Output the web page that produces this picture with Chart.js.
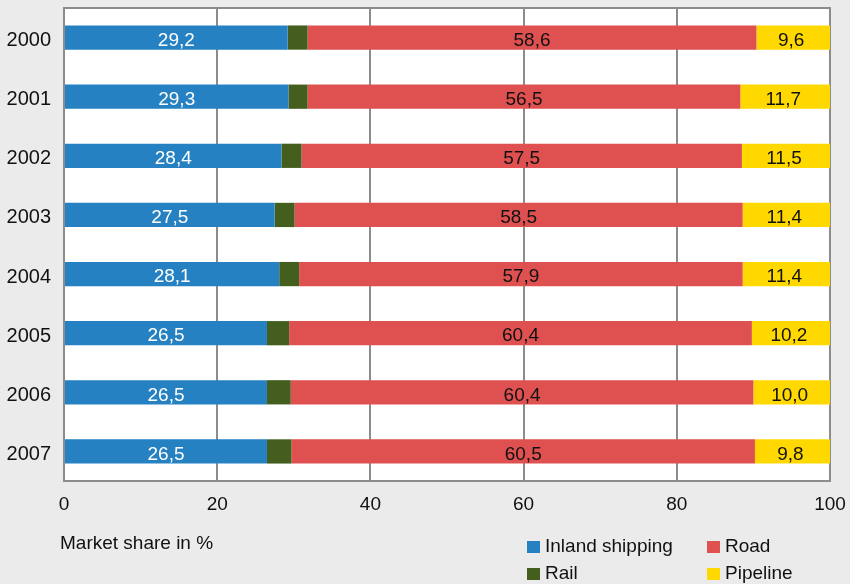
<!DOCTYPE html>
<html>
<head>
<meta charset="utf-8">
<script src="https://cdn.jsdelivr.net/npm/chart.js@4.4.0/dist/chart.umd.min.js"></script>
<style>
  html, body { margin: 0; padding: 0; background: #ebebeb; }
  #wrap { width: 850px; height: 584px; }
</style>
</head>
<body>
<div id="wrap"><canvas id="myChart" width="850" height="584"></canvas></div>
<script>
// market shares per year, in %
const years = ['2000', '2001', '2002', '2003', '2004', '2005', '2006', '2007'];
const inland = [29.2, 29.3, 28.4, 27.5, 28.1, 26.5, 26.5, 26.5];
const rail = [2.6, 2.5, 2.6, 2.6, 2.6, 2.9, 3.1, 3.2];
const road = [58.6, 56.5, 57.5, 58.5, 57.9, 60.4, 60.4, 60.5];
const pipeline = [9.6, 11.7, 11.5, 11.4, 11.4, 10.2, 10.0, 9.8];
const xTicks = [0, 20, 40, 60, 80, 100];

const FONT = "'Liberation Sans', Arial, sans-serif";
const GRID = '#8c8c8c';

// white plot area with grey frame
const plotArea = {
  id: 'plotArea',
  beforeDraw(chart) {
    const { ctx, chartArea: a } = chart;
    ctx.save();
    ctx.fillStyle = '#fff';
    ctx.fillRect(a.left, a.top, a.width, a.height);
    ctx.restore();
  },
  beforeDatasetsDraw(chart) {
    const { ctx, chartArea: a } = chart;
    ctx.save();
    ctx.strokeStyle = GRID;
    ctx.lineWidth = 2;
    ctx.strokeRect(a.left, a.top, a.width, a.height);
    ctx.restore();
  }
};

// value labels in the middle of each segment
const barLabels = {
  id: 'barLabels',
  afterDatasetsDraw(chart) {
    const ctx = chart.ctx;
    ctx.save();
    ctx.font = '19px ' + FONT;
    ctx.textAlign = 'center';
    ctx.textBaseline = 'middle';
    chart.data.datasets.forEach((ds, i) => {
      if (!ds.showValue) return;
      ctx.fillStyle = ds.valueColor;
      chart.getDatasetMeta(i).data.forEach((bar, j) => {
        const txt = ds.data[j].toFixed(1).replace('.', ',');
        ctx.fillText(txt, (bar.x + bar.base) / 2 - (i === 3 ? 2 : 0), bar.y + 3);
      });
    });
    ctx.restore();
  }
};

// axis caption and 2x2 legend under the chart
const footer = {
  id: 'footer',
  afterDraw(chart) {
    const ctx = chart.ctx;
    const ds = chart.data.datasets;
    ctx.save();
    ctx.font = '19px ' + FONT;
    ctx.textBaseline = 'middle';
    ctx.fillStyle = '#111';
    ctx.fillText('Market share in %', 60, 544);

    const slots = [[527, 546], [707, 546], [527, 573], [707, 573]];
    const order = [0, 2, 1, 3]; // inland, road / rail, pipeline
    order.forEach((di, k) => {
      const [x, y] = slots[k];
      ctx.fillStyle = ds[di].backgroundColor;
      ctx.fillRect(x, y - 5, 13, 12);
      ctx.fillStyle = '#111';
      ctx.fillText(ds[di].label, x + 18, y + 1);
    });
    ctx.restore();
  }
};

new Chart(document.getElementById('myChart'), {
  type: 'bar',
  data: {
    labels: years,
    datasets: [
      { label: 'Inland shipping', data: inland, backgroundColor: '#2581c1', showValue: true, valueColor: '#fff' },
      { label: 'Rail', data: rail, backgroundColor: '#445e1e', showValue: false },
      { label: 'Road', data: road, backgroundColor: '#df5050', showValue: true, valueColor: '#111' },
      { label: 'Pipeline', data: pipeline, backgroundColor: '#ffd800', showValue: true, valueColor: '#111' }
    ]
  },
  options: {
    indexAxis: 'y',
    responsive: false,
    animation: false,
    layout: { padding: { top: 8, right: 20, left: 0, bottom: 0 } },
    datasets: { bar: { barPercentage: 0.41, categoryPercentage: 1, borderWidth: 0 } },
    plugins: { legend: { display: false }, tooltip: { enabled: false } },
    scales: {
      x: {
        stacked: true,
        min: 0,
        max: 100,
        afterBuildTicks: s => { s.ticks = xTicks.map(v => ({ value: v })); },
        afterFit: s => { s.height = 103; s.paddingLeft = 0; s.paddingRight = 0; },
        ticks: { font: { family: FONT, size: 19 }, color: '#111', padding: 12 },
        grid: { color: GRID, lineWidth: 2, drawTicks: false },
        border: { display: false }
      },
      y: {
        stacked: true,
        afterFit: s => { s.width = 64; s.paddingTop = 0; s.paddingBottom = 0; },
        ticks: { font: { family: FONT, size: 20 }, color: '#111', padding: 13, labelOffset: 3 },
        grid: { display: false, drawTicks: false },
        border: { display: false }
      }
    }
  },
  plugins: [plotArea, barLabels, footer]
});
</script>
</body>
</html>
